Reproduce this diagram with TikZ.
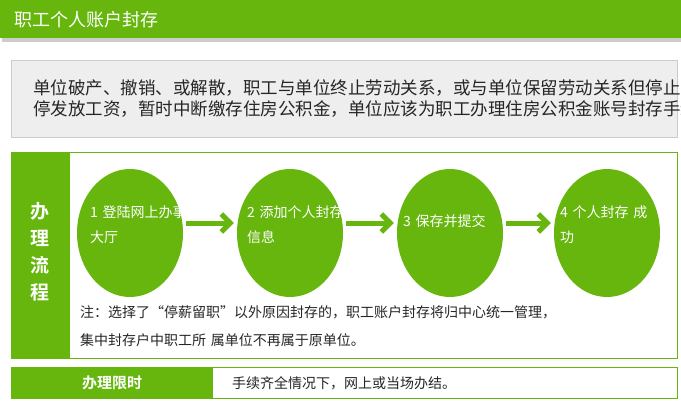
\documentclass[tikz,border=0pt]{standalone}
\usepackage{fontspec}
\usetikzlibrary{shapes.geometric,arrows.meta,calc}
\setmainfont{Noto Sans CJK SC}
\newfontfamily\cjkb{Noto Sans CJK SC Bold}
\definecolor{gr}{HTML}{66B60E}
\definecolor{lg}{HTML}{EEEEEE}
\begin{document}
\begin{tikzpicture}[x=1pt,y=-1pt,
  circ/.style={ellipse,fill=gr,minimum width=106pt,minimum height=128pt,inner sep=0pt},
  ctext/.style={anchor=north west,text=white,font=\fontsize{14}{25}\selectfont,align=left,text width=100pt,inner sep=0pt},
  arr/.style={-{Straight Barb[length=9pt,width=18pt,line width=5pt]},line width=5pt,draw=gr,shorten <=3pt,shorten >=3pt},
  body/.style={anchor=west,inner sep=0pt,font=\fontsize{14}{16}\selectfont,text=black!85}]
\useasboundingbox (0,0) rectangle (681,405);
\fill[white] (0,0) rectangle (681,405);
% header
\fill[black!20] (2,3) rectangle (681,42);
\fill[gr] (0,0) rectangle (681,38);
\node[anchor=west,text=white,font=\fontsize{18}{20}\selectfont,inner sep=0pt] (title) at (14,20) {职工个人账户封存};
% intro box
\draw[black!20,fill=lg] (11,60) rectangle (677,137);
\node[body,align=left,font=\fontsize{17.5}{21}\selectfont] (intro) at (33,99) {单位破产、撤销、或解散，职工与单位终止劳动关系，或与单位保留劳动关系但停止或暂\\停发放工资，暂时中断缴存住房公积金，单位应该为职工办理住房公积金账号封存手续。};
% process box
\draw[gr,fill=white] (11,152) rectangle (677,358);
\fill[gr] (11,152) rectangle (70,358);
\node[text=white,font=\cjkb\fontsize{19}{27}\selectfont,align=center,inner sep=0pt] (lbl) at (40,252) {办\\理\\流\\程};
\node[circ] (c1) at (130,233) {};
\node[circ] (c2) at (290,233) {};
\node[circ] (c3) at (450,233) {};
\node[circ] (c4) at (607,233) {};
\node[ctext] (t1) at (90,206) {1\,\,登陆网上办事\\大厅};
\node[ctext] (t2) at (247,206) {2\,\,添加个人封存\\信息};
\node[ctext] (t3) at (403,214) {3\,\,保存并提交};
\node[ctext] (t4) at (560,206) {4\,\,个人封存\,\,成\\功};
\draw[arr] ($(c1.east)+(0,-10)$) -- ($(c2.west)+(0,-10)$);
\draw[arr] ($(c2.east)+(0,-10)$) -- ($(c3.west)+(0,-10)$);
\draw[arr] ($(c3.east)+(0,-10)$) -- ($(c4.west)+(0,-10)$);
\node[body] (n1) at (80,312) {注：选择了“停薪留职”以外原因封存的，职工账户封存将归中心统一管理，};
\node[body] (n2) at (80,340) {集中封存户中职工所\,\,属单位不再属于原单位。};
% time box
\draw[gr,fill=white] (11,367) rectangle (677,398);
\fill[gr] (11,367) rectangle (213,398);
\node[text=white,font=\cjkb\fontsize{15}{16}\selectfont,inner sep=0pt] (tl) at (112,383) {办理限时};
\node[body] (tt) at (232,383) {手续齐全情况下，网上或当场办结。};
\end{tikzpicture}
\end{document}
